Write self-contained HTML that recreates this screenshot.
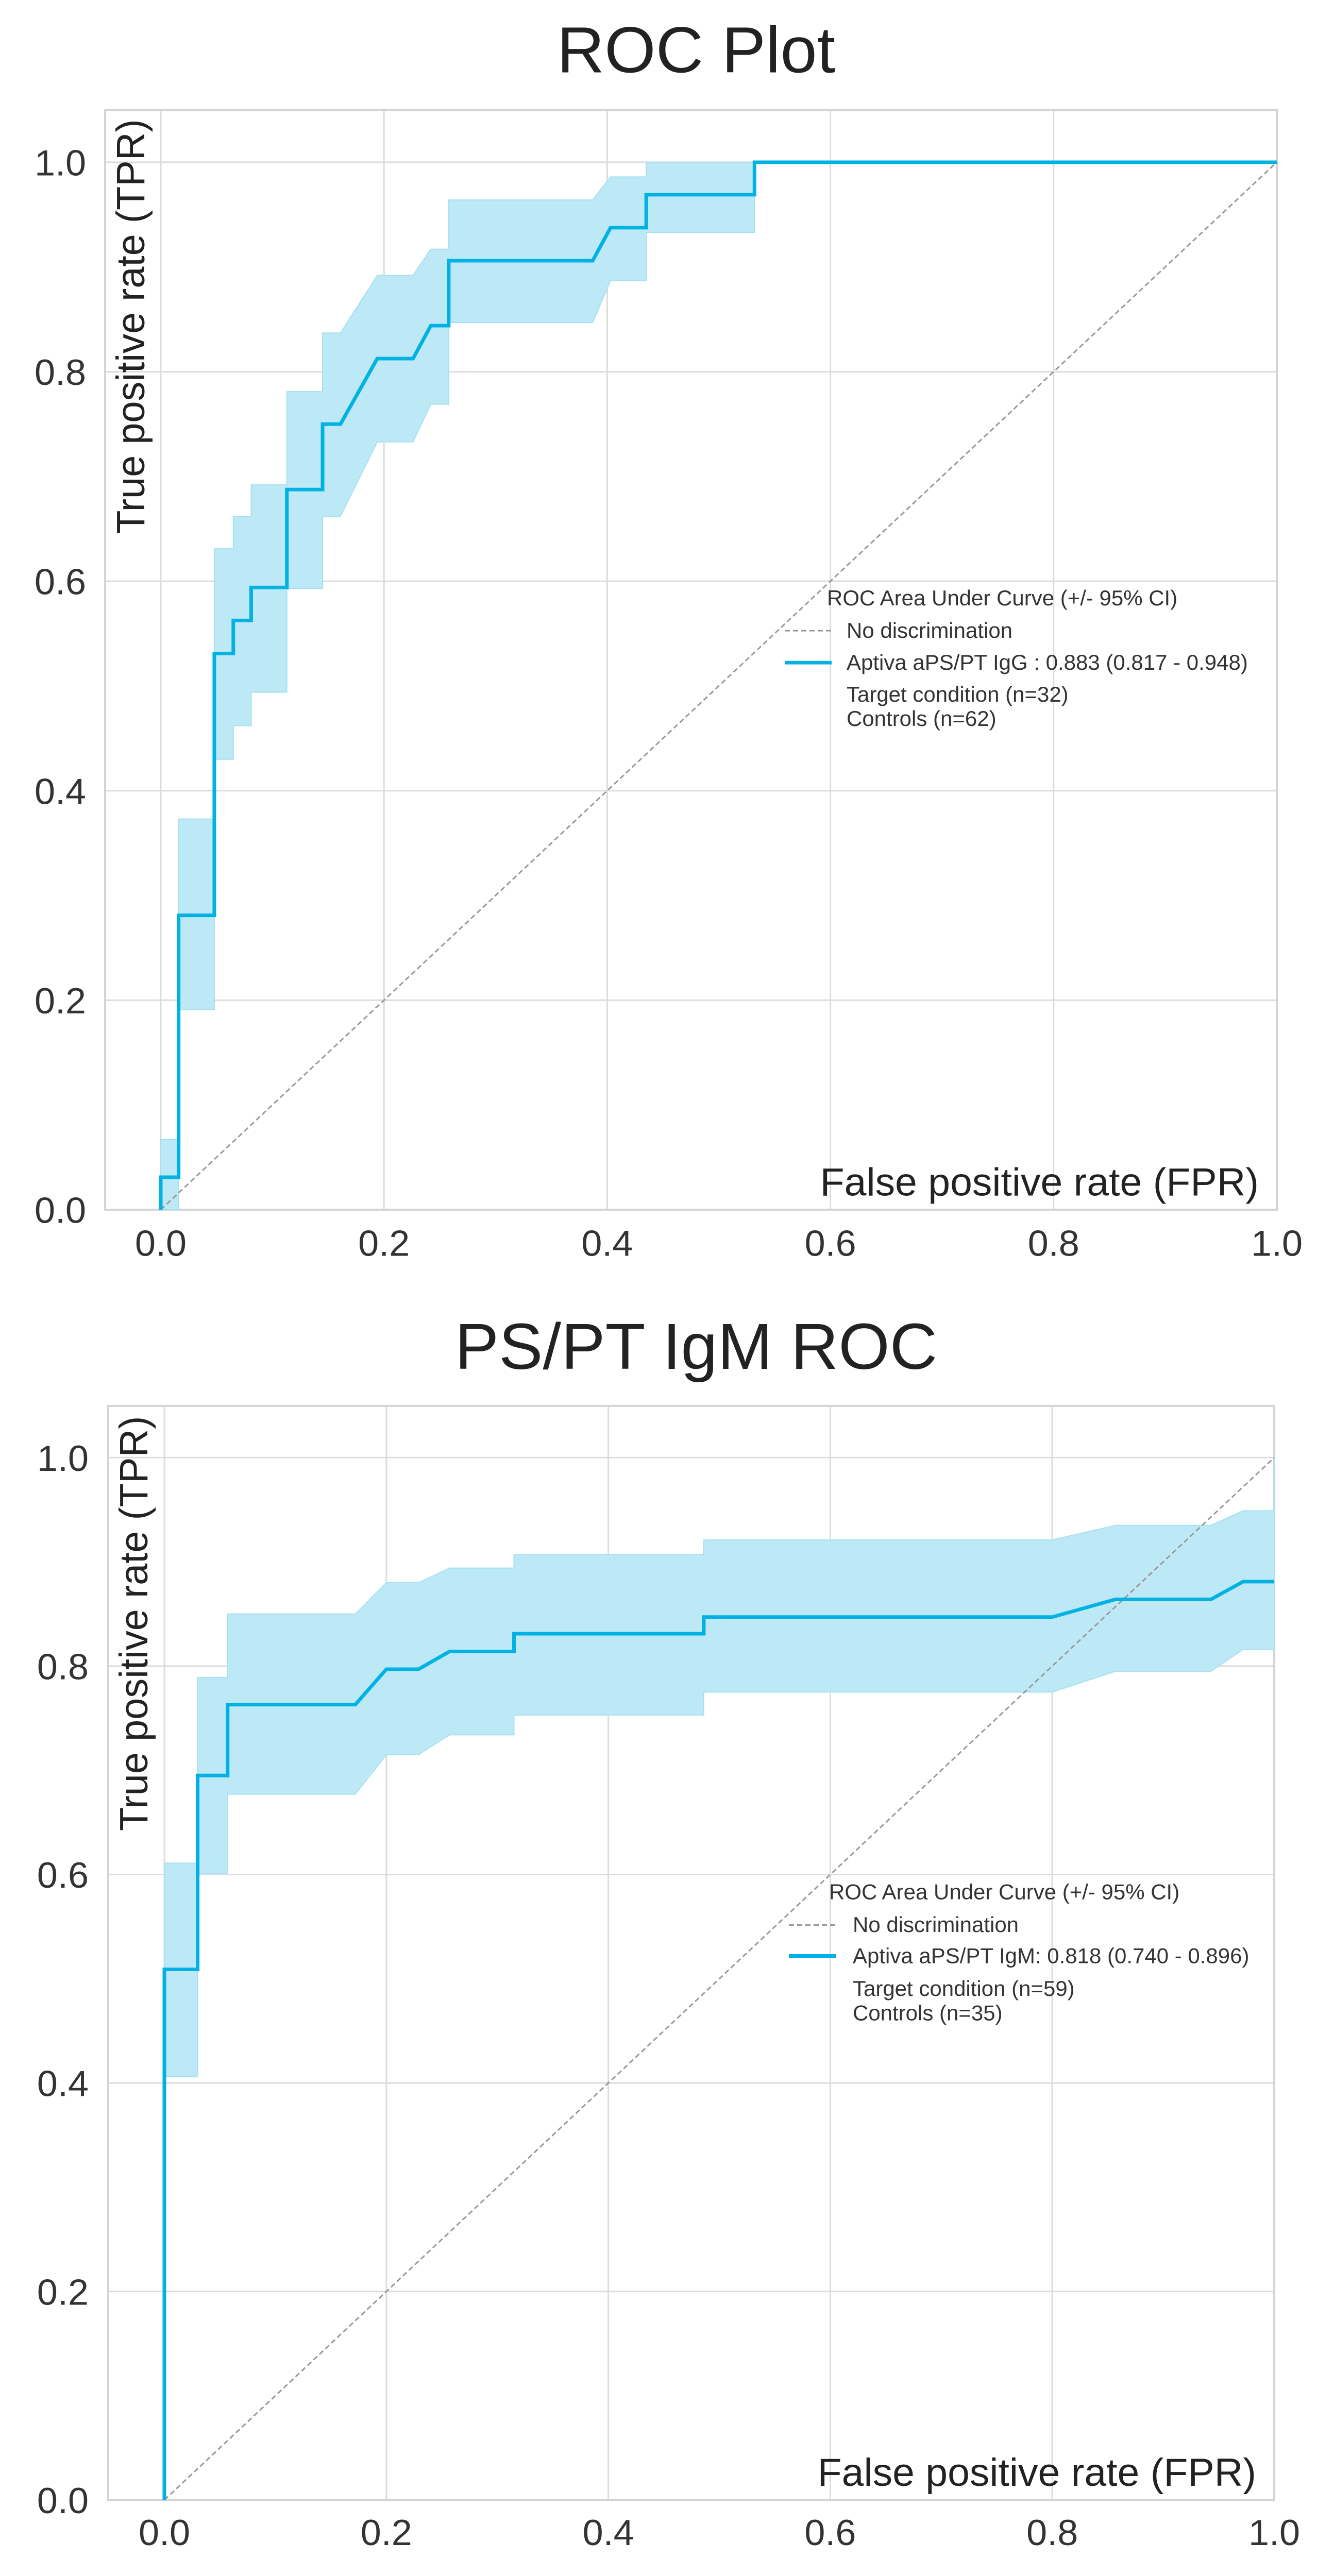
<!DOCTYPE html>
<html><head><meta charset="utf-8">
<style>
html,body{margin:0;padding:0;background:#fff;overflow:hidden;width:100vw;height:100vh;}
svg{display:block;width:100vw;height:100vh;font-family:"Liberation Sans",Arial,sans-serif;}
</style></head>
<body>
<svg id="chart" viewBox="0 0 2589 5081" preserveAspectRatio="none" xmlns="http://www.w3.org/2000/svg">
<rect width="2589" height="5081" fill="#fff"/>
</svg>
<script>
// ---- shared tick labels ----
const xTicks = [0, 0.2, 0.4, 0.6, 0.8, 1.0];
const xTickLabels = ["0.0", "0.2", "0.4", "0.6", "0.8", "1.0"];
const yTicks = [0, 0.2, 0.4, 0.6, 0.8, 1.0];
const yTickLabels = ["0.0", "0.2", "0.4", "0.6", "0.8", "1.0"];

// ---- top plot (IgG) ----
const iggFpr = [0,0,0.016,0.016,0.048,0.048,0.065,0.065,0.081,0.081,0.113,0.113,0.145,0.145,0.161,0.194,0.226,0.242,0.258,0.258,0.387,0.403,0.435,0.435,0.532,0.532,1];
const iggTpr = [0,0.031,0.031,0.281,0.281,0.531,0.531,0.5625,0.5625,0.594,0.594,0.6875,0.6875,0.75,0.75,0.8125,0.8125,0.844,0.844,0.906,0.906,0.9375,0.9375,0.969,0.969,1,1];
const iggBandX = [0,0.016,0.016,0.048,0.048,0.065,0.065,0.081,0.081,0.113,0.113,0.145,0.145,0.161,0.194,0.226,0.242,0.258,0.258,0.387,0.403,0.435,0.435,0.532,0.532,1];
const iggBandHi = [0.067,0.067,0.373,0.373,0.631,0.631,0.662,0.662,0.692,0.692,0.781,0.781,0.837,0.837,0.892,0.892,0.917,0.917,0.964,0.964,0.986,0.986,1,1,1,1];
const iggBandLo = [0,0,0.191,0.191,0.43,0.43,0.462,0.462,0.494,0.494,0.593,0.593,0.662,0.662,0.733,0.733,0.769,0.769,0.847,0.847,0.887,0.887,0.933,0.933,1,1];
const iggLegend = ["ROC Area Under Curve (+/- 95% CI)", "No discrimination", "Aptiva aPS/PT IgG : 0.883 (0.817 - 0.948)", "Target condition (n=32)", " Controls (n=62)"];

// ---- bottom plot (IgM) ----
const igmFpr = [0,0,0.030,0.030,0.057,0.057,0.172,0.2,0.229,0.257,0.315,0.315,0.486,0.486,0.8,0.857,0.943,0.972,1.0];
const igmTpr = [0,0.509,0.509,0.695,0.695,0.763,0.763,0.797,0.797,0.814,0.814,0.831,0.831,0.847,0.847,0.864,0.864,0.881,0.881];
const igmBandX = [0,0.030,0.030,0.057,0.057,0.172,0.2,0.229,0.257,0.315,0.315,0.486,0.486,0.8,0.857,0.943,0.972,1.0,1.0];
const igmBandHi = [0.611,0.611,0.789,0.789,0.850,0.850,0.880,0.880,0.894,0.894,0.907,0.907,0.921,0.921,0.935,0.935,0.949,0.949,1.0];
const igmBandLo = [0.406,0.406,0.601,0.601,0.677,0.677,0.715,0.715,0.734,0.734,0.753,0.753,0.775,0.775,0.795,0.795,0.816,0.816,0.816];
const igmLegend = ["ROC Area Under Curve (+/- 95% CI)", "No discrimination", "Aptiva aPS/PT IgM: 0.818 (0.740 - 0.896)", "Target condition (n=59)", " Controls (n=35)"];

const NS = "http://www.w3.org/2000/svg";
const svg = document.getElementById("chart");
const LINE = "#00b2e3";

function mk(tag, attrs, parent) {
  const e = document.createElementNS(NS, tag);
  for (const k in attrs) e.setAttribute(k, attrs[k]);
  parent.appendChild(e);
  return e;
}

function drawPlot(cfg) {
  const g = mk("g", {}, svg);
  
  
  const xs = v => cfg.x0 + (cfg.x1 - cfg.x0) * v;
  const ys = v => cfg.y0 + (cfg.y1 - cfg.y0) * v;

  const title = mk("text", {x: 1351, y: cfg.titleY, "text-anchor": "middle", "font-size": 128, fill: "#222"}, g);
  title.textContent = cfg.title;
  
  

  xTicks.forEach((t, i) => {
    const l = mk("line", {x1: xs(t), x2: xs(t), y1: cfg.boxT, y2: cfg.boxB, stroke: "#dcdcdc", "stroke-width": 3}, g);
    
    
    const tx = mk("text", {x: xs(t), y: cfg.xTickY, "text-anchor": "middle", "font-size": 72, fill: "#333"}, g);
    tx.textContent = xTickLabels[i];
    
    
  });
  yTicks.forEach((t, i) => {
    const l = mk("line", {x1: cfg.boxL, x2: cfg.boxR, y1: ys(t), y2: ys(t), stroke: "#dcdcdc", "stroke-width": 3}, g);
    
    
    const tx = mk("text", {x: cfg.yTickX, y: ys(t) + 26, "text-anchor": "end", "font-size": 72, fill: "#333"}, g);
    tx.textContent = yTickLabels[i];
    
    
  });
  const box = mk("rect", {x: cfg.boxL, y: cfg.boxT, width: cfg.boxR - cfg.boxL, height: cfg.boxB - cfg.boxT, fill: "none", stroke: "#d4d4d4", "stroke-width": 4}, g);
  
  

  let pts = [];
  cfg.bx.forEach((x, i) => pts.push(xs(x) + "," + ys(cfg.bhi[i])));
  for (let i = cfg.bx.length - 1; i >= 0; i--) pts.push(xs(cfg.bx[i]) + "," + ys(cfg.blo[i]));
  const band = mk("polygon", {points: pts.join(" "), fill: "#bde9f6", stroke: "#a6e0f2", "stroke-width": 2}, g);
  
  

  const diag = mk("line", {x1: xs(0), y1: ys(0), x2: xs(1), y2: ys(1), stroke: "#999", "stroke-width": 3, "stroke-dasharray": "10,6"}, g);
  
  

  const cp = cfg.fpr.map((x, i) => xs(x) + "," + ys(cfg.tpr[i])).join(" ");
  const curve = mk("polyline", {points: cp, fill: "none", stroke: LINE, "stroke-width": 7, "stroke-linejoin": "miter"}, g);
  
  

  const yl = mk("text", {x: 0, y: 0, transform: "translate(" + cfg.yLabX + "," + cfg.yLabTop + ") rotate(-90)", "text-anchor": "end", "font-size": 77, fill: "#222"}, g);
  yl.textContent = "True positive rate (TPR)";
  
  
  const xl = mk("text", {x: cfg.xLabR, y: cfg.xLabY, "text-anchor": "end", "font-size": 77, fill: "#222"}, g);
  xl.textContent = "False positive rate (FPR)";
  
  

  const lg = mk("g", {"font-size": 42, fill: "#333"}, g);
  
  
  const lt = mk("text", {x: cfg.legTitleX, y: cfg.legY[0] + 14}, lg);
  lt.textContent = cfg.legend[0];
  
  
  for (let i = 1; i < 5; i++) {
    const t = mk("text", {x: cfg.legTextX, y: cfg.legY[i] + 14}, lg);
    t.textContent = cfg.legend[i];
    
    
  }
  const s1 = mk("line", {x1: cfg.legLine[0], x2: cfg.legLine[1], y1: cfg.legY[1], y2: cfg.legY[1], stroke: "#999", "stroke-width": 3, "stroke-dasharray": "10,6"}, lg);
  
  
  const s2 = mk("line", {x1: cfg.legLine[0], x2: cfg.legLine[1], y1: cfg.legY[2], y2: cfg.legY[2], stroke: LINE, "stroke-width": 7}, lg);
  
  
}

drawPlot({
  name: "igg-roc-plot", title: "ROC Plot", titleY: 143,
  x0: 312, x1: 2478, y0: 2386, y1: 320,
  boxL: 204, boxR: 2478, boxT: 217, boxB: 2386,
  xTickY: 2477, yTickX: 167,
  fpr: iggFpr, tpr: iggTpr, bx: iggBandX, bhi: iggBandHi, blo: iggBandLo,
  yLabX: 280, yLabTop: 235, xLabR: 2443, xLabY: 2358,
  legend: iggLegend, legY: [1180, 1244, 1307, 1370, 1418],
  legTitleX: 1605, legTextX: 1643, legLine: [1523, 1614]
});
drawPlot({
  name: "igm-roc-plot", title: "PS/PT IgM ROC", titleY: 2700,
  x0: 319, x1: 2473, y0: 4931, y1: 2875,
  boxL: 210, boxR: 2473, boxT: 2773, boxB: 4931,
  xTickY: 5020, yTickX: 172,
  fpr: igmFpr, tpr: igmTpr, bx: igmBandX, bhi: igmBandHi, blo: igmBandLo,
  yLabX: 286, yLabTop: 2793, xLabR: 2438, xLabY: 4903,
  legend: igmLegend, legY: [3732, 3797, 3858, 3923, 3971],
  legTitleX: 1609, legTextX: 1655, legLine: [1531, 1622]
});
</script>
</body></html>
